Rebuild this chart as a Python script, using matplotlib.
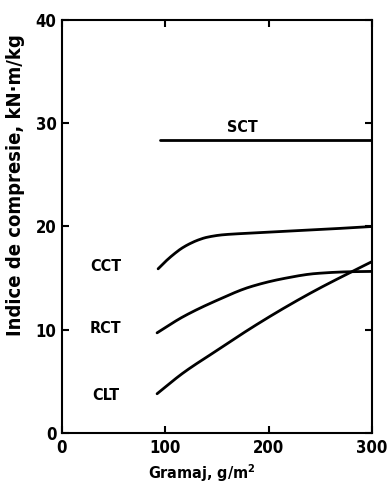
import matplotlib.pyplot as plt
import numpy as np

# curve data (gramaj g/m2 -> indice kN.m/kg)
sct_x = [95, 300]
sct_y = [28.4, 28.4]

cct_x = [93, 100, 108, 116, 124, 132, 140, 156, 192, 240, 300]
cct_y = [15.9, 16.6, 17.3, 17.9, 18.35, 18.7, 18.95, 19.2, 19.4, 19.65, 20.0]

rct_x = [92, 117, 150, 182, 214, 246, 279, 300]
rct_y = [9.7, 11.25, 12.85, 14.15, 14.95, 15.45, 15.62, 15.65]

clt_x = [92, 117, 150, 182, 214, 246, 279, 300]
clt_y = [3.8, 5.8, 8.0, 10.1, 12.05, 13.85, 15.55, 16.6]

labels = ["SCT", "CCT", "RCT", "CLT"]
label_pos = [(175, 29.6), (42, 16.1), (42, 10.1), (42, 3.6)]

xticks = [0, 100, 200, 300]
yticks = [0, 10, 20, 30, 40]


def smooth(x, y, n=300):
	# monotone piecewise cubic through the read points
	x = np.asarray(x, float)
	y = np.asarray(y, float)
	if len(x) < 3:
		return x, y
	xs = np.linspace(x[0], x[-1], n)
	h = np.diff(x)
	d = np.diff(y) / h
	m = np.zeros_like(y)
	m[0] = d[0]
	m[-1] = d[-1]
	for i in range(1, len(x) - 1):
		if d[i - 1] * d[i] <= 0:
			m[i] = 0
		else:
			w1 = 2 * h[i] + h[i - 1]
			w2 = h[i] + 2 * h[i - 1]
			m[i] = (w1 + w2) / (w1 / d[i - 1] + w2 / d[i])
	idx = np.clip(np.searchsorted(x, xs) - 1, 0, len(x) - 2)
	t = (xs - x[idx]) / h[idx]
	h00 = 2 * t**3 - 3 * t**2 + 1
	h10 = t**3 - 2 * t**2 + t
	h01 = -2 * t**3 + 3 * t**2
	h11 = t**3 - t**2
	ys = h00 * y[idx] + h10 * h[idx] * m[idx] + h01 * y[idx + 1] + h11 * h[idx] * m[idx + 1]
	return xs, ys


plt.rcParams['font.family'] = ['DejaVu Sans']
plt.rcParams['font.stretch'] = 'condensed'
plt.rcParams['mathtext.fontset'] = 'dejavusans'

font = dict(fontweight='bold', fontstretch='condensed', fontsize=11.5)

fig = plt.figure(figsize=(3.87, 4.88), dpi=100)
ax = fig.add_axes([62 / 387, 1 - 433 / 488, 310 / 387, 413 / 488])

for xs, ys in [(sct_x, sct_y), (cct_x, cct_y), (rct_x, rct_y), (clt_x, clt_y)]:
	sx, sy = smooth(xs, ys)
	ax.plot(sx, sy, color='black', linewidth=2.0, solid_capstyle='round')

for name, (lx, ly) in zip(labels, label_pos):
	ax.text(lx, ly, name, ha='center', va='center', **font)

ax.set_xlim(0, 300)
ax.set_ylim(0, 40)
ax.set_xticks(xticks)
ax.set_yticks(yticks)
ax.tick_params(direction='in', length=5, width=1.5, top=True, right=True, pad=4)
for lab in ax.get_xticklabels() + ax.get_yticklabels():
	lab.set_fontweight('bold')
	lab.set_fontstretch('condensed')
	lab.set_fontsize(12)

for s in ax.spines.values():
	s.set_linewidth(1.5)

ax.set_xlabel("Gramaj, g/m$\\mathbf{^{2}}$", fontweight='bold', fontstretch='condensed', fontsize=11.5)
ax.set_ylabel("Indice de compresie, kN·m/kg", fontweight='bold', fontstretch='condensed', fontsize=14.5)
ax.xaxis.set_label_coords(0.45, -0.07)
ax.yaxis.set_label_coords(-0.12, 0.6)

plt.savefig('out.png', dpi=100)
